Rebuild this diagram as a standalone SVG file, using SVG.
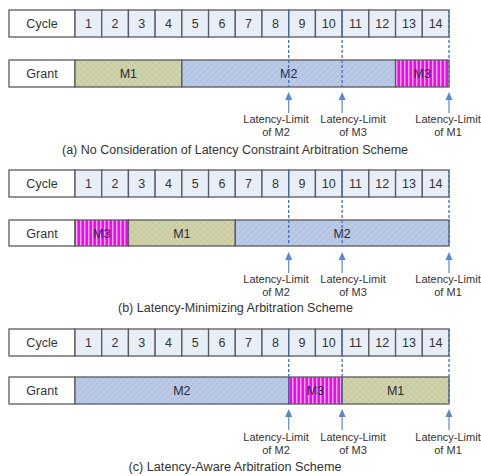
<svg xmlns="http://www.w3.org/2000/svg" width="481" height="476" viewBox="0 0 481 476">
<style>
text{font-family:"Liberation Sans",Arial,sans-serif;fill:#333;text-anchor:middle}
.lbl{fill:#fff;stroke:#5a5a5a;stroke-width:1.3}
.cell{fill:#e8eef8;stroke:#5a5a5a;stroke-width:1.3}
.seg{stroke:#5a5a5a;stroke-width:1.3}
.t12{font-size:12.5px}
.m{font-size:12.5px;fill:#2a2a3a}
.sm{font-size:11px}
.cap{font-size:12px}
.dash{stroke:#3f6fc4;stroke-width:1.3;stroke-dasharray:3,2;fill:none}
.arr{stroke:#6a92cc;stroke-width:1.3;fill:none}
.ah{fill:#5b86c8}
</style>
<defs>
<pattern id="pM1" width="6" height="6" patternUnits="userSpaceOnUse"><rect width="6" height="6" fill="#d0d3aa"/><path d="M0 0L6 6M6 0L0 6" stroke="#c0c398" stroke-width="0.6"/></pattern>
<pattern id="pM2" width="6" height="6" patternUnits="userSpaceOnUse"><rect width="6" height="6" fill="#b9c9e6"/><path d="M0 6L6 0M-1 1L1 -1M5 7L7 5" stroke="#a6b7d7" stroke-width="0.7"/></pattern>
<pattern id="pM3" width="4" height="4" patternUnits="userSpaceOnUse"><rect width="4" height="4" fill="#ff00ff"/><rect x="0" width="1.4" height="4" fill="#f6b6ef"/></pattern>
<g id="cycleRow">
<rect class="lbl" x="9" y="10" width="66" height="27"/>
<text class="t12" x="42" y="28">Cycle</text>
<rect class="cell" x="75" y="10" width="26.71" height="27"/><text class="t12" x="88.4" y="28">1</text>
<rect class="cell" x="101.71" y="10" width="26.71" height="27"/><text class="t12" x="115.1" y="28">2</text>
<rect class="cell" x="128.43" y="10" width="26.71" height="27"/><text class="t12" x="141.8" y="28">3</text>
<rect class="cell" x="155.14" y="10" width="26.71" height="27"/><text class="t12" x="168.5" y="28">4</text>
<rect class="cell" x="181.86" y="10" width="26.71" height="27"/><text class="t12" x="195.2" y="28">5</text>
<rect class="cell" x="208.57" y="10" width="26.71" height="27"/><text class="t12" x="221.9" y="28">6</text>
<rect class="cell" x="235.29" y="10" width="26.71" height="27"/><text class="t12" x="248.6" y="28">7</text>
<rect class="cell" x="262" y="10" width="26.71" height="27"/><text class="t12" x="275.4" y="28">8</text>
<rect class="cell" x="288.71" y="10" width="26.71" height="27"/><text class="t12" x="302.1" y="28">9</text>
<rect class="cell" x="315.43" y="10" width="26.71" height="27"/><text class="t12" x="328.8" y="28">10</text>
<rect class="cell" x="342.14" y="10" width="26.71" height="27"/><text class="t12" x="355.5" y="28">11</text>
<rect class="cell" x="368.86" y="10" width="26.71" height="27"/><text class="t12" x="382.2" y="28">12</text>
<rect class="cell" x="395.57" y="10" width="26.71" height="27"/><text class="t12" x="408.9" y="28">13</text>
<rect class="cell" x="422.29" y="10" width="26.71" height="27"/><text class="t12" x="435.6" y="28">14</text>
</g>
</defs>

<!-- Panel (a) -->
<g id="panelA">
<g id="a-cycle"><use href="#cycleRow"/></g>
<g id="a-grant">
<rect class="lbl" x="9" y="60" width="66" height="27"/>
<text class="t12" x="42" y="78">Grant</text>
<rect class="seg" fill="url(#pM1)" x="75" y="60" width="106.86" height="27"/><text class="m" x="128.4" y="78">M1</text>
<rect class="seg" fill="url(#pM2)" x="181.86" y="60" width="213.71" height="27"/><text class="m" x="288.7" y="78">M2</text>
<rect class="seg" fill="url(#pM3)" x="395.57" y="60" width="53.43" height="27"/><text class="m" x="422.3" y="78">M3</text>
</g>
<g id="a-connectors">
<path class="dash" d="M288.7 10V87M342.1 10V87M449 10V87"/>
<path class="arr" d="M288.7 99V113M342.1 99V113M449 99V113"/>
<path class="ah" d="M288.7 92l-3.5 8h7zM342.1 92l-3.5 8h7zM449 92l-3.5 8h7z"/>
</g>
<g id="a-labels">
<text class="sm" x="276" y="123">Latency-Limit</text><text class="sm" x="276" y="136">of M2</text>
<text class="sm" x="353" y="123">Latency-Limit</text><text class="sm" x="353" y="136">of M3</text>
<text class="sm" x="448" y="123">Latency-Limit</text><text class="sm" x="448" y="136">of M1</text>
<text class="cap" x="235" y="154" textLength="346" lengthAdjust="spacingAndGlyphs">(a) No Consideration of Latency Constraint Arbitration Scheme</text>
</g>
</g>

<!-- Panel (b) -->
<g id="panelB" transform="translate(0,160)">
<g id="b-cycle"><use href="#cycleRow"/></g>
<g id="b-grant">
<rect class="lbl" x="9" y="60" width="66" height="26"/>
<text class="t12" x="42" y="77.5">Grant</text>
<rect class="seg" fill="url(#pM3)" x="75" y="60" width="53.43" height="26"/><text class="m" x="101.7" y="77.5">M3</text>
<rect class="seg" fill="url(#pM1)" x="128.43" y="60" width="106.86" height="26"/><text class="m" x="181.9" y="77.5">M1</text>
<rect class="seg" fill="url(#pM2)" x="235.29" y="60" width="213.71" height="26"/><text class="m" x="342.1" y="77.5">M2</text>
</g>
<g id="b-connectors">
<path class="dash" d="M288.7 10V86M342.1 10V86M449 10V86"/>
<path class="arr" d="M288.7 99V113M342.1 99V113M449 99V113"/>
<path class="ah" d="M288.7 92l-3.5 8h7zM342.1 92l-3.5 8h7zM449 92l-3.5 8h7z"/>
</g>
<g id="b-labels">
<text class="sm" x="276" y="123">Latency-Limit</text><text class="sm" x="276" y="136">of M2</text>
<text class="sm" x="353" y="123">Latency-Limit</text><text class="sm" x="353" y="136">of M3</text>
<text class="sm" x="448" y="123">Latency-Limit</text><text class="sm" x="448" y="136">of M1</text>
<text class="cap" x="235.5" y="152" textLength="235" lengthAdjust="spacingAndGlyphs">(b) Latency-Minimizing Arbitration Scheme</text>
</g>
</g>

<!-- Panel (c) -->
<g id="panelC" transform="translate(0,319)">
<g id="c-cycle"><use href="#cycleRow"/></g>
<g id="c-grant">
<rect class="lbl" x="9" y="58" width="66" height="27"/>
<text class="t12" x="42" y="76">Grant</text>
<rect class="seg" fill="url(#pM2)" x="75" y="58" width="213.71" height="27"/><text class="m" x="181.9" y="76">M2</text>
<rect class="seg" fill="url(#pM3)" x="288.71" y="58" width="53.43" height="27"/><text class="m" x="315.4" y="76">M3</text>
<rect class="seg" fill="url(#pM1)" x="342.14" y="58" width="106.86" height="27"/><text class="m" x="395.6" y="76">M1</text>
</g>
<g id="c-connectors">
<path class="dash" d="M288.7 10V85M342.1 10V85M449 10V85"/>
<path class="arr" d="M288.7 97V111M342.1 97V111M449 97V111"/>
<path class="ah" d="M288.7 90l-3.5 8h7zM342.1 90l-3.5 8h7zM449 90l-3.5 8h7z"/>
</g>
<g id="c-labels">
<text class="sm" x="276" y="122">Latency-Limit</text><text class="sm" x="276" y="135">of M2</text>
<text class="sm" x="353" y="122">Latency-Limit</text><text class="sm" x="353" y="135">of M3</text>
<text class="sm" x="448" y="122">Latency-Limit</text><text class="sm" x="448" y="135">of M1</text>
<text class="cap" x="235" y="152" textLength="213" lengthAdjust="spacingAndGlyphs">(c) Latency-Aware Arbitration Scheme</text>
</g>
</g>
</svg>
